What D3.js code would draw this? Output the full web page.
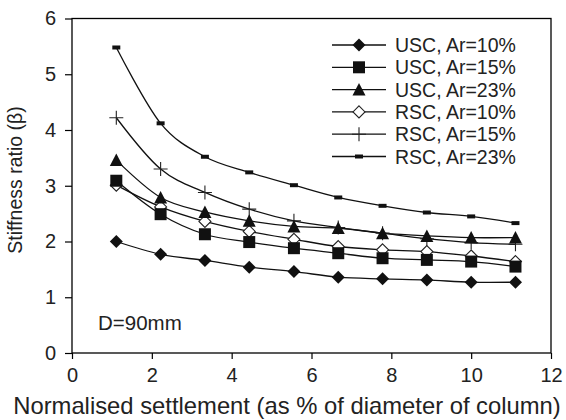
<!DOCTYPE html>
<html lang="en">
  <head>
    <meta charset="utf-8">
    <title>Stiffness ratio vs normalised settlement</title>
    <script src="https://cdnjs.cloudflare.com/ajax/libs/d3/7.8.5/d3.min.js"></script>
    <style>
      body { margin: 0; background: #fff; }
      svg { display: block; font-family: "Liberation Sans", Arial, sans-serif; }
      .tick text { font-size: 20px; fill: #222; }
      .tick line { stroke: #000; stroke-width: 1.2; }
    </style>
  </head>
  <body>
    <script type="text/javascript">

    // settlement in % of column diameter (1..10 mm on D = 90 mm)
    const settlement = [1.11, 2.22, 3.33, 4.44, 5.56, 6.67, 7.78, 8.89, 10.0, 11.11];

    const usc10 = [2.00, 1.77, 1.66, 1.54, 1.46, 1.36, 1.33, 1.31, 1.27, 1.27];
    const usc15 = [3.09, 2.49, 2.13, 1.99, 1.88, 1.79, 1.70, 1.67, 1.64, 1.55];
    const usc23 = [3.46, 2.79, 2.53, 2.37, 2.27, 2.24, 2.15, 2.10, 2.07, 2.07];
    const rsc10 = [3.01, 2.62, 2.36, 2.18, 2.04, 1.91, 1.85, 1.82, 1.74, 1.64];
    const rsc15 = [4.22, 3.30, 2.88, 2.58, 2.37, 2.25, 2.15, 2.05, 1.98, 1.95];
    const rsc23 = [5.48, 4.12, 3.52, 3.24, 3.01, 2.79, 2.64, 2.52, 2.45, 2.33];

    const seriesNames = ['USC, Ar=10%', 'USC, Ar=15%', 'USC, Ar=23%',
                         'RSC, Ar=10%', 'RSC, Ar=15%', 'RSC, Ar=23%'];
    const seriesMarkers = ['diamond', 'square', 'triangle', 'openDiamond', 'plus', 'dash'];
    const xTicks = [0, 2, 4, 6, 8, 10, 12];
    const yTicks = [0, 1, 2, 3, 4, 5, 6];

    const w = 566, h = 420;
    const plotLeft = 72, plotRight = 551, plotTop = 18.5, plotBottom = 353;

    const svg = d3.select('body').append('svg')
      .attr('width', w)
      .attr('height', h);

    const xScale = d3.scaleLinear().domain([0, 12]).range([plotLeft, plotRight]);
    const yScale = d3.scaleLinear().domain([0, 6]).range([plotBottom, plotTop]);

    // marker shapes, centred on the point
    const markerPath = function (type) {
      switch (type) {
        case 'diamond': return 'M0,-6.5L6.5,0L0,6.5L-6.5,0Z';
        case 'openDiamond': return 'M0,-6L6,0L0,6L-6,0Z';
        case 'square': return 'M-6,-6H6V6H-6Z';
        case 'triangle': return 'M0,-6.5L6.5,6L-6.5,6Z';
        case 'plus': return 'M-7,0H7M0,-7V7';
        case 'dash': return 'M-4,-2H4V2H-4Z';
      }
    };
    const drawMarker = function (sel, type) {
      sel.append('path')
        .attr('d', markerPath(type))
        .attr('fill', type === 'openDiamond' ? '#fff' : (type === 'plus' ? 'none' : '#111'))
        .attr('stroke', type === 'openDiamond' || type === 'plus' ? '#222' : 'none')
        .attr('stroke-width', 1.1);
    };

    const allSeries = [usc10, usc15, usc23, rsc10, rsc15, rsc23];

    // axes
    svg.append('g')
      .attr('id', 'x-axis')
      .attr('transform', 'translate(0,' + plotBottom + ')')
      .call(d3.axisBottom(xScale).tickValues(xTicks).tickFormat(d3.format('d'))
        .tickSize(6).tickPadding(9))
      .call(g => g.select('.domain').remove());

    svg.append('g')
      .attr('id', 'y-axis')
      .attr('transform', 'translate(' + plotLeft + ',0)')
      .call(d3.axisLeft(yScale).tickValues(yTicks).tickFormat(d3.format('d'))
        .tickSize(7).tickPadding(9))
      .call(g => g.select('.domain').remove());

    svg.selectAll('#x-axis, #y-axis').attr('font-family', null).attr('font-size', null);

    // frame
    svg.append('rect')
      .attr('x', plotLeft).attr('y', plotTop)
      .attr('width', plotRight - plotLeft).attr('height', plotBottom - plotTop)
      .attr('fill', 'none')
      .attr('stroke', '#000')
      .attr('stroke-width', 1.3);

    // lines
    const line = d3.line()
      .x((d, i) => xScale(settlement[i]))
      .y(d => yScale(d))
      .curve(d3.curveCardinal.tension(0));

    svg.selectAll('.series-line')
      .data(allSeries)
      .enter()
      .append('path')
      .attr('class', 'series-line')
      .attr('d', d => line(d))
      .attr('fill', 'none')
      .attr('stroke', '#111')
      .attr('stroke-width', 1.3);

    // markers (open diamonds underneath, filled ones on top)
    const drawOrder = [3, 4, 5, 0, 1, 2];
    drawOrder.forEach(function (s) {
      const g = svg.append('g').attr('class', 'markers');
      allSeries[s].forEach(function (v, i) {
        const m = g.append('g')
          .attr('transform', 'translate(' + xScale(settlement[i]) + ',' + yScale(v) + ')');
        drawMarker(m, seriesMarkers[s]);
      });
    });

    // legend
    const legend = svg.append('g').attr('class', 'legend');
    seriesNames.forEach(function (name, i) {
      const y = 45 + i * 22.3;
      legend.append('line')
        .attr('x1', 332).attr('x2', 386)
        .attr('y1', y).attr('y2', y)
        .attr('stroke', '#111')
        .attr('stroke-width', 1.3);
      const m = legend.append('g').attr('transform', 'translate(359,' + y + ')');
      drawMarker(m, seriesMarkers[i]);
      legend.append('text')
        .attr('x', 395).attr('y', y)
        .attr('dy', '0.36em')
        .attr('font-size', 19.5)
        .attr('fill', '#222')
        .text(name);
    });

    // labels
    svg.append('text')
      .attr('x', 98).attr('y', 330)
      .attr('font-size', 20.5)
      .attr('fill', '#222')
      .text('D=90mm');

    svg.append('text')
      .attr('x', 287).attr('y', 414)
      .attr('text-anchor', 'middle')
      .attr('font-size', 23.8)
      .attr('fill', '#222')
      .text('Normalised settlement (as % of diameter of column)');

    svg.append('text')
      .attr('transform', 'translate(22,180) rotate(-90)')
      .attr('text-anchor', 'middle')
      .attr('font-size', 19.5)
      .attr('fill', '#222')
      .text('Stiffness ratio (β)');

    </script>
  </body>
</html>
